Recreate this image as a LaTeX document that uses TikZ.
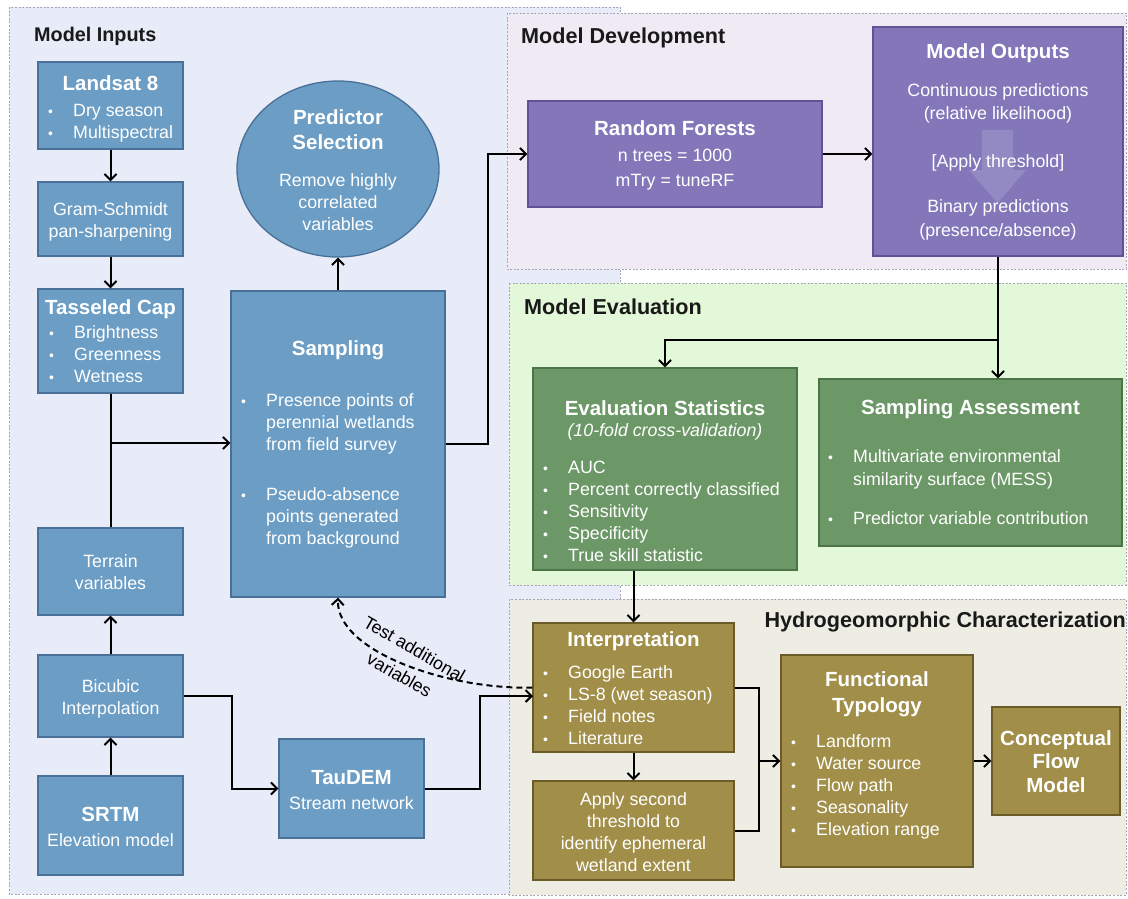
\documentclass[tikz,border=0pt]{standalone}
\usepackage{fontspec}
\setmainfont{Liberation Sans}
\usetikzlibrary{arrows.meta,shapes.geometric}

\definecolor{inputbg}{RGB}{232,235,248}
\definecolor{devbg}{RGB}{239,234,244}
\definecolor{evalbg}{RGB}{226,248,216}
\definecolor{hydrobg}{RGB}{237,237,228}
\definecolor{bluefill}{RGB}{107,157,197}
\definecolor{blueline}{RGB}{72,112,152}
\definecolor{purpfill}{RGB}{131,119,186}
\definecolor{purpline}{RGB}{96,82,152}
\definecolor{greenfill}{RGB}{108,152,103}
\definecolor{greenline}{RGB}{76,116,72}
\definecolor{olivefill}{RGB}{161,142,73}
\definecolor{oliveline}{RGB}{106,91,40}
\definecolor{zoneline}{RGB}{165,165,182}

% bullet and continuation line for the lists
\newcommand{\itm}{\makebox[25pt][l]{\fontsize{14}{14}\selectfont\textbullet}}
\newcommand{\cnt}{\hspace*{25pt}}

\tikzset{
  zone/.style={draw=zoneline, line width=0.9pt, dash pattern=on 2pt off 1.6pt},
  box/.style={draw, line width=1.3pt, inner sep=0pt},
  inbox/.style={box, fill=bluefill, draw=blueline},
  devbox/.style={box, fill=purpfill, draw=purpline},
  evalbox/.style={box, fill=greenfill, draw=greenline},
  hydrobox/.style={box, fill=olivefill, draw=oliveline},
  body/.style={text=white, inner sep=0pt, align=center,
    font=\fontsize{17.8}{22}\selectfont},
  lst/.style={body, align=left, anchor=west},
  head/.style={text=white, inner sep=0pt, align=center,
    font=\fontsize{20.5}{25}\selectfont\bfseries},
  zonetitle/.style={inner sep=0pt, text=black!90,
    font=\fontsize{21.6}{25}\selectfont\bfseries},
  flow/.style={-{Straight Barb[length=6pt,width=12pt]}, line width=2pt},
  link/.style={line width=2pt},
}

\begin{document}
\begin{tikzpicture}[x=1pt, y=-1pt]
  \useasboundingbox (0,0) rectangle (1128,898);
  \fill[white] (0,0) rectangle (1128,898);

  % Zones
  \fill[inputbg, zone] (9,7) rectangle (620,894);
  \fill[devbg, zone] (507,13) rectangle (1126,269);
  \fill[evalbg, zone] (509,283) rectangle (1126,585);
  \fill[hydrobg, zone] (509,599) rectangle (1126,895);

  \node[zonetitle, anchor=west, font=\fontsize{19.8}{24}\selectfont\bfseries] (tinputs) at (34,36) {Model Inputs};
  \node[zonetitle, anchor=west] (tdev) at (521,38) {Model Development};
  \node[zonetitle, anchor=west] (teval) at (524,307) {Model Evaluation};
  \node[zonetitle, anchor=east] (thydro) at (1126,622) {Hydrogeomorphic Characterization};

  % Model inputs
  \node[inbox, minimum width=145pt, minimum height=87pt] (landsat) at (110.5,105.5) {};
  \node[head] (landsatT) at (110.5,83) {Landsat 8};
  \node[lst] (landsatL) at (48,123) {\itm Dry season\\\itm Multispectral};

  \node[inbox, minimum width=145pt, minimum height=74pt] (gram) at (110.5,219) {};
  \node[body] (gramT) at (110.5,221.5) {Gram-Schmidt\\pan-sharpening};

  \node[inbox, minimum width=145pt, minimum height=104pt] (tcap) at (110.5,341) {};
  \node[head] (tcapT) at (110.5,309) {Tasseled Cap};
  \node[lst] (tcapL) at (49,354) {\itm Brightness\\\itm Greenness\\\itm Wetness};

  \node[inbox, minimum width=145pt, minimum height=87pt] (terrain) at (110.5,571.5) {};
  \node[body] (terrainT) at (110.5,572.5) {Terrain\\variables};

  \node[inbox, minimum width=145pt, minimum height=82pt] (bicubic) at (110.5,696) {};
  \node[body] (bicubicT) at (110.5,698.5) {Bicubic\\Interpolation};

  \node[inbox, minimum width=145pt, minimum height=99pt] (srtm) at (110.5,825.5) {};
  \node[head] (srtmT) at (110.5,814) {SRTM};
  \node[body] (srtmL) at (110.5,840) {Elevation model};

  \node[inbox, minimum width=145pt, minimum height=99pt] (taudem) at (351.5,788.5) {};
  \node[head] (taudemT) at (351.5,778) {TauDEM};
  \node[body] (taudemL) at (351.5,803) {Stream network};

  \node[inbox, minimum width=214pt, minimum height=306pt] (sampling) at (338,444) {};
  \node[head] (samplingT) at (338,350) {Sampling};
  \node[lst] (samplingA) at (241,424) {\itm Presence points of\\\cnt perennial wetlands\\\cnt from field survey};
  \node[lst] (samplingB) at (241,517.5) {\itm Pseudo-absence\\\cnt points generated\\\cnt from background};

  \node[inbox, ellipse, minimum width=202pt, minimum height=176pt] (predsel) at (338,169) {};
  \node[head] (predselT) at (338,129.5) {Predictor\\Selection};
  \node[body] (predselL) at (338,202) {Remove highly\\correlated\\variables};

  % Model development
  \node[devbox, minimum width=294pt, minimum height=106pt] (rf) at (675,154) {};
  \node[head] (rfT) at (675,128) {Random Forests};
  \node[body, font=\fontsize{17.8}{25}\selectfont] (rfL) at (675,169.5) {n trees = 1000\\mTry = tuneRF};

  \node[devbox, minimum width=250pt, minimum height=229pt] (outputs) at (998,141.5) {};
  \fill[white, opacity=0.14] (982,130) -- (1013,130) -- (1013,170) -- (1026,170)
    -- (997.5,203) -- (969,170) -- (982,170) -- cycle;
  \node[head] (outputsT) at (998,53) {Model Outputs};
  \node[body, font=\fontsize{17.8}{23}\selectfont] (outputsA) at (998,103.5) {Continuous predictions\\(relative likelihood)};
  \node[body] (outputsB) at (998,163) {[Apply threshold]};
  \node[body, font=\fontsize{17.8}{24}\selectfont] (outputsC) at (998,220) {Binary predictions\\(presence/absence)};

  % Model evaluation
  \node[evalbox, minimum width=264pt, minimum height=202pt] (evalstat) at (665,469) {};
  \node[head] (evalstatT) at (665,408) {Evaluation Statistics};
  \node[body, font=\fontsize{17.8}{22}\selectfont\itshape] (evalstatS) at (665,432) {(10-fold cross-validation)};
  \node[lst] (evalstatL) at (543,511) {\itm AUC\\\itm Percent correctly classified\\\itm Sensitivity\\\itm Specificity\\\itm True skill statistic};

  \node[evalbox, minimum width=303pt, minimum height=167pt] (sampassess) at (970.5,462.5) {};
  \node[head] (sampassessT) at (970.5,409) {Sampling Assessment};
  \node[lst, font=\fontsize{17.8}{23}\selectfont] (sampassessA) at (828,469.5) {\itm Multivariate environmental\\\cnt similarity surface (MESS)};
  \node[lst] (sampassessB) at (828,518) {\itm Predictor variable contribution};

  % Hydrogeomorphic characterization
  \node[hydrobox, minimum width=201pt, minimum height=129pt] (interp) at (633.5,687.5) {};
  \node[head] (interpT) at (633.5,641) {Interpretation};
  \node[lst] (interpL) at (543,705) {\itm Google Earth\\\itm LS-8 (wet season)\\\itm Field notes\\\itm Literature};

  \node[hydrobox, minimum width=201pt, minimum height=99pt] (apply) at (633.5,830.5) {};
  \node[body] (applyT) at (633.5,832) {Apply second\\threshold to\\identify ephemeral\\wetland extent};

  \node[hydrobox, minimum width=192pt, minimum height=212pt] (functyp) at (877,761) {};
  \node[head, font=\fontsize{20.5}{26}\selectfont\bfseries] (functypT) at (877,694) {Functional\\Typology};
  \node[lst] (functypL) at (791,787) {\itm Landform\\\itm Water source\\\itm Flow path\\\itm Seasonality\\\itm Elevation range};

  \node[hydrobox, minimum width=128pt, minimum height=108pt] (concept) at (1056,761) {};
  \node[head, font=\fontsize{20.5}{23.5}\selectfont\bfseries] (conceptT) at (1056,761.5) {Conceptual\\Flow\\Model};

  % Connectors
  \coordinate (join) at (110.5,443);
  \coordinate (split) at (998,340);
  \coordinate (interpin) at (533,696);
  \coordinate (merge) at (758,761);

  \draw[flow] (landsat) -- (gram);
  \draw[flow] (gram) -- (tcap);
  \draw[link] (tcap) -- (terrain);
  \draw[flow] (join) -- (join -| sampling.west);
  \draw[flow] (srtm) -- (bicubic);
  \draw[flow] (bicubic) -- (terrain);
  \draw[flow] (bicubic.east) -- ++(48,0) |- (taudem.west);
  \draw[flow] (taudem.east) -- ++(55,0) |- (interpin);
  \draw[flow] (sampling.north) -- (predsel.south);
  \draw[flow] (sampling.east) -- ++(42,0) |- (rf.west);
  \draw[flow] (rf.east) -- (rf.east -| outputs.west);
  \draw[link] (outputs.south -| split) -- (split);
  \draw[flow] (split) -- (split |- sampassess.north);
  \draw[flow] (split) -| (evalstat.north);
  \draw[flow] (evalstat.south -| interp.north) -- (interp.north);
  \draw[flow] (interp) -- (apply);
  \draw[link] (interp.east) -- ++(24,0) |- (apply.east);
  \draw[flow] (merge) -- (merge -| functyp.west);
  \draw[flow] (functyp) -- (concept);

  % Feedback to sampling
  \draw[flow, dash pattern=on 6pt off 4pt] (interp.west) .. controls (450,690) and (336,652) .. (sampling.south);
  \node[inner sep=0pt, align=center, rotate=-30, font=\fontsize{17.8}{30}\selectfont] (testvar) at (407,662) {Test additional\\variables};
\end{tikzpicture}
\end{document}
